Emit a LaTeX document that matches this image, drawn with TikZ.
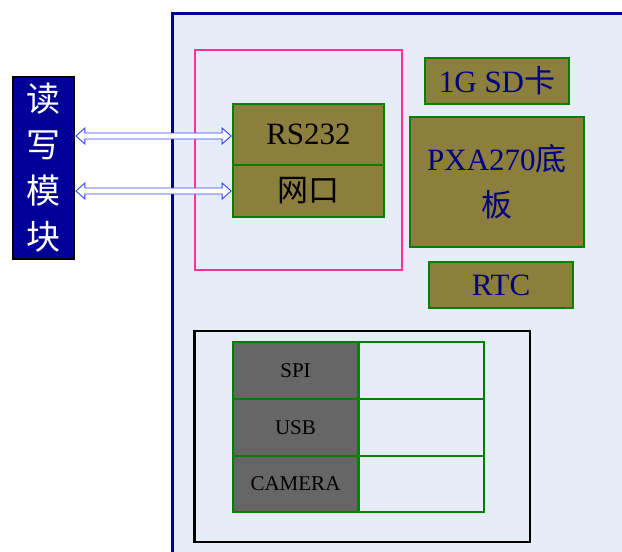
\documentclass[tikz,border=0pt]{standalone}
\usepackage{fontspec}
\setmainfont{Liberation Serif}
\newfontfamily\cjk{Noto Sans CJK SC}
\usetikzlibrary{calc}
\definecolor{bgblue}{HTML}{E6EDF8}
\definecolor{navy}{HTML}{000099}
\definecolor{olive}{HTML}{8C7E3C}
\definecolor{grn}{HTML}{008000}
\definecolor{pink}{HTML}{FF3399}
\definecolor{gry}{HTML}{666666}
\definecolor{txtblue}{HTML}{000080}
\definecolor{arrblue}{HTML}{3344FF}
\tikzset{
  obox/.style={draw=grn, line width=1.8pt, fill=olive, inner sep=0pt, font=\fontsize{31}{34}\selectfont},
  gbox/.style={draw=grn, line width=1.8pt, fill=gry, inner sep=0pt, font=\fontsize{21}{24}\selectfont},
  ebox/.style={draw=grn, line width=1.8pt, fill=bgblue, inner sep=0pt},
  dblarrow/.style={draw=arrblue, line width=0.9pt, fill=white, line join=miter},
}
\begin{document}
\begin{tikzpicture}[x=1pt,y=-1pt]
\clip (0,0) rectangle (622,552);
\fill[white] (0,0) rectangle (622,552);
% outer board
\draw[draw=navy, line width=3.2pt, fill=bgblue] (172.5,13.5) rectangle (660,600);
% pink box
\draw[draw=pink, line width=1.8pt] (195,50) rectangle (402,270);
% black box
\draw[draw=black, line width=2.4pt] (194.5,331) rectangle (530,542);
% read-write module
\node[draw=black, line width=1.8pt, fill=navy, text=white, inner sep=0pt,
      minimum width=61pt, minimum height=182pt, align=center,
      font=\cjk\fontsize{34}{46}\selectfont] (rw) at (43.5,168) {读\\写\\模\\块};
% RS232 / net
\node[obox, minimum width=151pt, minimum height=61pt, text=black] (rs) at (308.5,134.5) {RS232};
\node[obox, minimum width=151pt, minimum height=52pt, text=black] (net) at (308.5,191) {\cjk 网口};
% right side
\node[obox, minimum width=144pt, minimum height=46pt, text=txtblue] (sd) at (497,81) {1G SD{\cjk 卡}};
\node[obox, minimum width=174pt, minimum height=130pt, text=txtblue, align=center,
      font=\fontsize{31}{46}\selectfont] (pxa) at (497,182) {PXA270{\cjk 底}\\{\cjk 板}};
\node[obox, minimum width=144pt, minimum height=46pt, text=txtblue] (rtc) at (501,285) {RTC};
% interfaces
\node[gbox, minimum width=125pt, minimum height=57pt, text=black] (spi) at (295.5,370.5) {SPI};
\node[gbox, minimum width=125pt, minimum height=57pt, text=black] (usb) at (295.5,427.5) {USB};
\node[gbox, minimum width=125pt, minimum height=56pt, text=black] (cam) at (295.5,484) {CAMERA};
\node[ebox, minimum width=125pt, minimum height=57pt] (spie) at (421.5,370.5) {};
\node[ebox, minimum width=125pt, minimum height=57pt, line width=2.5pt] (usbe) at (421.5,427.5) {};
\node[ebox, minimum width=125pt, minimum height=56pt] (came) at (421.5,484) {};
% arrows (hollow double-line arrows)
\draw[dblarrow] let \p1=($(rw.east |- rs.west)+(1pt,-1.5pt)$), \p2=($(rs.west)+(-1pt,-1.5pt)$) in
  (\x1,\y1) -- (\x1+9pt,\y1+8pt) -- (\x1+9pt,\y1+3pt) -- (\x2-9pt,\y1+3pt) -- (\x2-9pt,\y1+8pt) --
  (\x2,\y1) -- (\x2-9pt,\y1-8pt) -- (\x2-9pt,\y1-3pt) -- (\x1+9pt,\y1-3pt) -- (\x1+9pt,\y1-8pt) -- cycle;
\draw[dblarrow] let \p1=($(rw.east |- net.west)+(1pt,0)$), \p2=($(net.west)+(-1pt,0)$) in
  (\x1,\y1) -- (\x1+9pt,\y1+8pt) -- (\x1+9pt,\y1+3pt) -- (\x2-9pt,\y1+3pt) -- (\x2-9pt,\y1+8pt) --
  (\x2,\y1) -- (\x2-9pt,\y1-8pt) -- (\x2-9pt,\y1-3pt) -- (\x1+9pt,\y1-3pt) -- (\x1+9pt,\y1-8pt) -- cycle;
\end{tikzpicture}
\end{document}
